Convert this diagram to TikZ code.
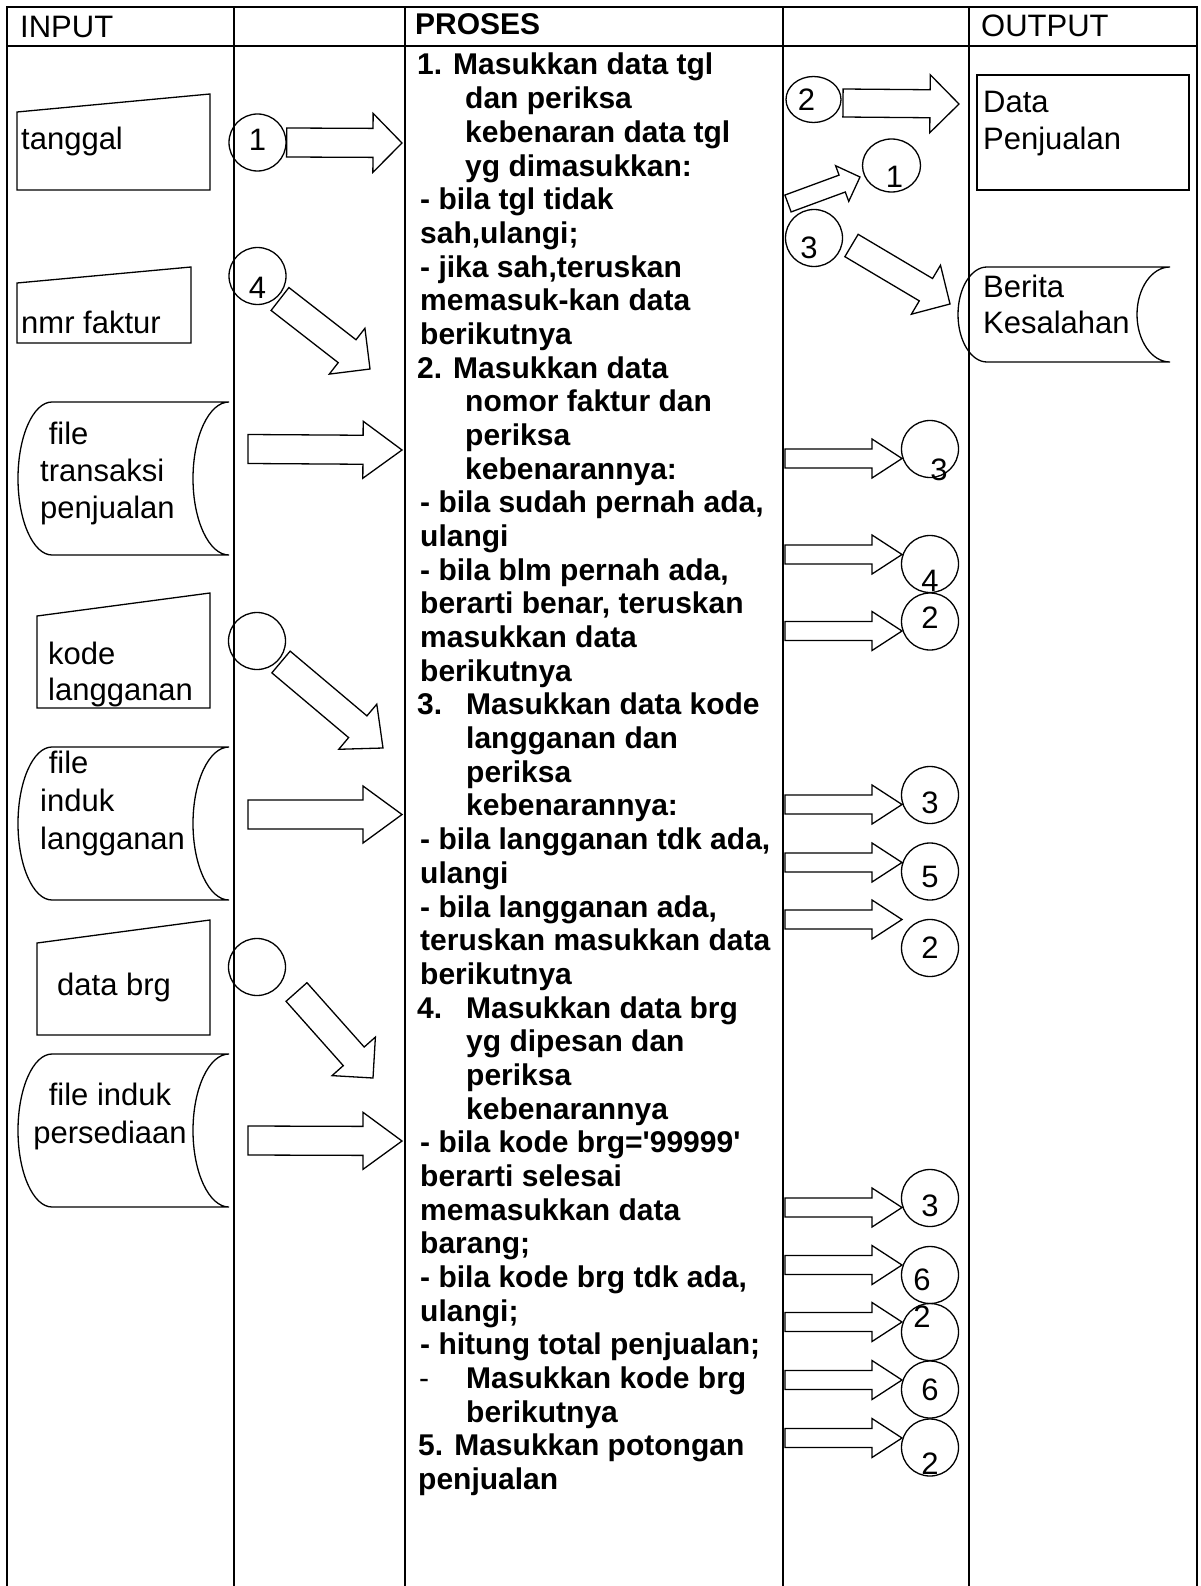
\documentclass[tikz,border=0pt]{standalone}
\usepackage{fontspec}
\setmainfont{Liberation Sans}
\usetikzlibrary{calc,shapes.geometric}
\tikzset{
  gridline/.style={line width=2pt},
  shp/.style={line width=1.3pt},
  txt/.style={anchor=base west, inner sep=0pt, font=\fontsize{31}{37}\selectfont},
  btxt/.style={anchor=base west, inner sep=0pt, font=\fontsize{30}{33.7}\selectfont\bfseries},
  lbl/.style={inner sep=0pt, font=\fontsize{31}{37}\selectfont},
  conn/.style={ellipse, draw, shp, minimum width=57pt, minimum height=57pt, inner sep=0pt}
}
\newcommand{\itemno}[2][36pt]{\makebox[#1][l]{#2}}
% #1 shaft half width, #2 head half width, #3 head length, #4 tail, #5 tip
\newcommand{\fatarrow}[5]{%
  \coordinate (fa-h) at ($(#5)!#3pt!(#4)$);
  \draw[shp] ($(#4)!#1pt!90:(#5)$) -- ($(fa-h)!#1pt!90:(#5)$) -- ($(fa-h)!#2pt!90:(#5)$)
    -- (#5) -- ($(fa-h)!#2pt!-90:(#5)$) -- ($(fa-h)!#1pt!-90:(#5)$) -- ($(#4)!#1pt!-90:(#5)$) -- cycle;
}
% #1 left, #2 right, #3 top, #4 bottom, #5 left bulge, #6 right bulge
\newcommand{\filestore}[6]{%
  \pgfmathsetmacro\fsry{(#3-#4)/2}
  \draw[shp] ({#1+#5},#3) -- (#2,#3) arc[start angle=90, end angle=270, x radius=#6, y radius=\fsry]
    -- ({#1+#5},#4) arc[start angle=270, end angle=90, x radius=#5, y radius=\fsry] -- cycle;
}

\begin{document}
\begin{tikzpicture}[x=1pt,y=1pt]
  \useasboundingbox (0,0) rectangle (1200,-1586);
  % table
  \draw[gridline] (7,-1590) -- (7,-7) -- (1197,-7) -- (1197,-1590);
  \foreach \x in {234,405,783,969}
    \draw[gridline] (\x,-7) -- (\x,-1590);
  \draw[gridline] (7,-46.5) -- (1197,-46.5);
  \node[txt] (hin) at (20,-38) {INPUT};
  \node[btxt] (hpr) at (415,-35) {PROSES};
  \node[txt] (hout) at (981,-37) {OUTPUT};

  % input
  \draw[shp] (17,-190) -- (17,-112) -- (210,-94) -- (210,-190) -- cycle;
  \node[txt] (tgl) at (21,-150) {tanggal};
  \draw[shp] (17,-343) -- (17,-283) -- (191,-267) -- (191,-343) -- cycle;
  \node[txt] (nmr) at (21,-333) {nmr faktur};
  \filestore{18}{229}{-402}{-555}{34}{36}
  \node[txt] (ftr1) at (40,-444) {\ file};
  \node[txt] (ftr2) at (40,-481) {transaksi};
  \node[txt] (ftr3) at (40,-518) {penjualan};
  \draw[shp] (37,-708) -- (37,-616) -- (210,-593) -- (210,-708) -- cycle;
  \node[txt] (kode1) at (48,-664) {kode};
  \node[txt] (kode2) at (48,-700) {langganan};
  \filestore{18}{229}{-747}{-900}{34}{36}
  \node[txt] (fil1) at (40,-773) {\ file};
  \node[txt] (fil2) at (40,-811) {induk};
  \node[txt] (fil3) at (40,-849) {langganan};
  \draw[shp] (37,-1035) -- (37,-943) -- (210,-920) -- (210,-1035) -- cycle;
  \node[txt] (brg) at (57,-995) {data brg};
  \filestore{18}{229}{-1054}{-1207}{34}{36}
  \node[txt, anchor=base] (fip1) at (110,-1105) {file induk};
  \node[txt, anchor=base] (fip2) at (110,-1143) {persediaan};

  % connectors into the process
  \node[conn, label={[lbl, shift={(0,3)}]center:1}] (c1) at (257.5,-142.5) {};
  \node[conn, label={[lbl, shift={(0,-12)}]center:4}] (c4) at (257.5,-276) {};
  \node[conn] (ce1) at (257,-641) {};
  \node[conn] (ce2) at (257,-967) {};
  \coordinate (a1e) at (402,-143);
  \coordinate (a4s) at (280,-299);
  \coordinate (a4e) at (370,-369);
  \coordinate (aftrs) at (248,-449);
  \coordinate (aftre) at (402,-450);
  \coordinate (akodes) at (281,-662);
  \coordinate (akodee) at (383,-748);
  \coordinate (afils) at (248,-814.5);
  \coordinate (afile) at (402,-814.5);
  \coordinate (abrgs) at (296.5,-992);
  \coordinate (abrge) at (373,-1078);
  \coordinate (afips) at (248,-1140.5);
  \coordinate (afipe) at (402,-1141);
  \fatarrow{14.5}{29.5}{29}{c1.east}{a1e}
  \fatarrow{14.5}{29}{29}{a4s}{a4e}
  \fatarrow{14.5}{28.5}{39}{aftrs}{aftre}
  \fatarrow{14.2}{29.5}{33}{akodes}{akodee}
  \fatarrow{14.5}{28.5}{39}{afils}{afile}
  \fatarrow{14}{29}{29}{abrgs}{abrge}
  \fatarrow{14.5}{28.5}{39}{afips}{afipe}

  % process
  \foreach \ind/\txt [count=\row from 0] in {
    0/{\itemno{1.}Masukkan data tgl},
    48/{dan periksa},
    48/{kebenaran data tgl},
    48/{yg dimasukkan:},
    3/{- bila tgl tidak},
    3/{sah,ulangi;},
    3/{- jika sah,teruskan},
    3/{memasuk-kan data},
    3/{berikutnya},
    0/{\itemno{2.}Masukkan data},
    48/{nomor faktur dan},
    48/{periksa},
    48/{kebenarannya:},
    3/{- bila sudah pernah ada,},
    3/{ulangi},
    3/{- bila blm pernah ada,},
    3/{berarti benar, teruskan},
    3/{masukkan data},
    3/{berikutnya},
    0/{\itemno[49pt]{3.}Masukkan data kode},
    49/{langganan dan},
    49/{periksa},
    49/{kebenarannya:},
    3/{- bila langganan tdk ada,},
    3/{ulangi},
    3/{- bila langganan ada,},
    3/{teruskan masukkan data},
    3/{berikutnya},
    0/{\itemno[49pt]{4.}Masukkan data brg},
    49/{yg dipesan dan},
    49/{periksa},
    49/{kebenarannya},
    3/{- bila kode brg=\textquotesingle 99999\textquotesingle},
    3/{berarti selesai},
    3/{memasukkan data},
    3/{barang;},
    3/{- bila kode brg tdk ada,},
    3/{ulangi;},
    3/{- hitung total penjualan;},
    2/{\itemno[47pt]{\mdseries -}Masukkan kode brg},
    49/{berikutnya},
    1/{5. Masukkan potongan},
    1/{penjualan}}
    \node[btxt] (p\row) at ({417+\ind},{-75-33.68*\row}) {\txt};

  % connectors out of the process
  \node[conn, minimum width=55pt, minimum height=46pt, label={[lbl, shift={(-7,0)}]center:2}] (c2t) at (813.5,-99.5) {};
  \node[conn, minimum width=58pt, minimum height=53pt, label={[lbl, shift={(3,-11)}]center:1}] (c1t) at (891.5,-165.5) {};
  \node[conn, label={[lbl, shift={(-5,-10)}]center:3}] (c3t) at (814,-238) {};
  \coordinate (a2s) at (843,-103);
  \coordinate (a2e) at (959,-104);
  \coordinate (a1ts) at (788,-203.5);
  \coordinate (a1te) at (860,-177);
  \coordinate (a3s) at (851.5,-245.5);
  \coordinate (a3e) at (950,-304);
  \fatarrow{14}{29}{29}{a2s}{a2e}
  \fatarrow{9}{19}{19}{a1ts}{a1te}
  \fatarrow{13}{28.5}{28}{a3s}{a3e}
  \foreach \cy/\d/\dx/\dy [count=\i] in {449/3/9/-21, 564/4/0/-17, 621.5/2/0/4, 795/3/0/-8,
      871.5/5/0/-5, 948/2/0/0, 1198/3/0/-8, 1275/6/-8/-5, 1332/2/-8/15, 1389.5/6/0/0, 1447.5/2/0/-16}
    \node[conn, label={[lbl, shift={(\dx,\dy)}]center:\d}] (r\i) at (930,-\cy) {};
  \foreach \ay [count=\i] in {458.5,554.5,631,804.5,862.5,919.5,1207.5,1265,1322,1380,1438} {
    \coordinate (os\i) at (785,-\ay);
    \coordinate (oe\i) at (902,-\ay);
    \fatarrow{9.5}{19.5}{30}{os\i}{oe\i}
  }

  % output
  \draw[shp] (977,-75) rectangle (1189,-190);
  \node[txt] (dp1) at (983,-113) {Data};
  \node[txt] (dp2) at (983,-150) {Penjualan};
  \filestore{958}{1170}{-267}{-362}{29}{33}
  \node[txt] (bk1) at (983,-298) {Berita};
  \node[txt] (bk2) at (983,-333) {Kesalahan};
\end{tikzpicture}
\end{document}
